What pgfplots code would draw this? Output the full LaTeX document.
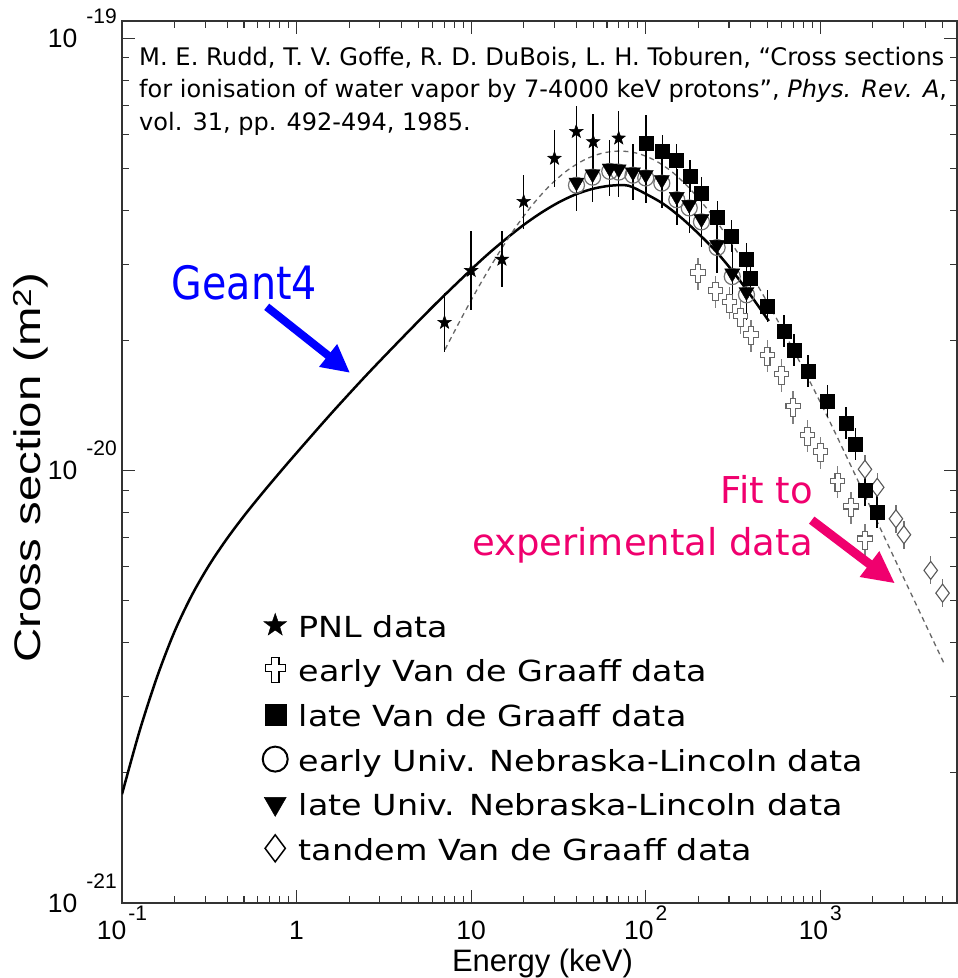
\documentclass[border=0pt]{standalone}
\usepackage{fontspec}
\setmainfont{DejaVu Sans}
\newfontfamily\arial{Liberation Sans}
\newfontfamily\arialY[FakeStretch=1.28]{Liberation Sans}
\newfontfamily\tahoma[FakeStretch=0.86]{DejaVu Sans}
\newfontfamily\legfont[FakeStretch=1.15]{DejaVu Sans}
\usepackage{pgfplots}
\pgfplotsset{compat=1.18}
\usetikzlibrary{arrows.meta}
\definecolor{fitpink}{RGB}{240,0,110}

\pgfdeclareplotmark{fstar}{%
\pgfpathmoveto{\pgfqpointpolar{90}{\pgfplotmarksize}}%
\pgfpathlineto{\pgfqpointpolar{126}{0.4\pgfplotmarksize}}%
\pgfpathlineto{\pgfqpointpolar{162}{\pgfplotmarksize}}%
\pgfpathlineto{\pgfqpointpolar{198}{0.4\pgfplotmarksize}}%
\pgfpathlineto{\pgfqpointpolar{234}{\pgfplotmarksize}}%
\pgfpathlineto{\pgfqpointpolar{270}{0.4\pgfplotmarksize}}%
\pgfpathlineto{\pgfqpointpolar{306}{\pgfplotmarksize}}%
\pgfpathlineto{\pgfqpointpolar{342}{0.4\pgfplotmarksize}}%
\pgfpathlineto{\pgfqpointpolar{18}{\pgfplotmarksize}}%
\pgfpathlineto{\pgfqpointpolar{54}{0.4\pgfplotmarksize}}%
\pgfpathclose
\pgfusepathqfillstroke}

\pgfdeclareplotmark{ocross}{%
\pgfpathmoveto{\pgfqpoint{-0.3\pgfplotmarksize}{\pgfplotmarksize}}%
\pgfpathlineto{\pgfqpoint{0.3\pgfplotmarksize}{\pgfplotmarksize}}%
\pgfpathlineto{\pgfqpoint{0.3\pgfplotmarksize}{0.45\pgfplotmarksize}}%
\pgfpathlineto{\pgfqpoint{0.8\pgfplotmarksize}{0.45\pgfplotmarksize}}%
\pgfpathlineto{\pgfqpoint{0.8\pgfplotmarksize}{-0.15\pgfplotmarksize}}%
\pgfpathlineto{\pgfqpoint{0.3\pgfplotmarksize}{-0.15\pgfplotmarksize}}%
\pgfpathlineto{\pgfqpoint{0.3\pgfplotmarksize}{-\pgfplotmarksize}}%
\pgfpathlineto{\pgfqpoint{-0.3\pgfplotmarksize}{-\pgfplotmarksize}}%
\pgfpathlineto{\pgfqpoint{-0.3\pgfplotmarksize}{-0.15\pgfplotmarksize}}%
\pgfpathlineto{\pgfqpoint{-0.8\pgfplotmarksize}{-0.15\pgfplotmarksize}}%
\pgfpathlineto{\pgfqpoint{-0.8\pgfplotmarksize}{0.45\pgfplotmarksize}}%
\pgfpathlineto{\pgfqpoint{-0.3\pgfplotmarksize}{0.45\pgfplotmarksize}}%
\pgfpathclose
\pgfusepathqfillstroke}

\newcommand\xtl[2]{\mbox{\arial\fontsize{26.5}{26.5}\selectfont #1\ifx\relax#2\relax\else\hspace{2pt}\raisebox{19pt}[0pt][0pt]{\fontsize{21}{21}\selectfont #2}\fi}}
\newcommand\ytl[1]{\mbox{\arial\fontsize{26.5}{26.5}\selectfont 10\hspace{9pt}\raisebox{24pt}[0pt][0pt]{\fontsize{21}{21}\selectfont #1}}}

\begin{document}
\begin{tikzpicture}
\begin{axis}[
  scale only axis, width=835pt, height=882pt,
  xmode=log, ymode=log,
  xmin=0.1, xmax=6065, ymin=1e-21, ymax=1.095e-19,
  xtick={0.1,1,10,100,1000},
  xticklabels={\xtl{10}{-1},\xtl{1}{},\xtl{10}{},\xtl{10}{2},\xtl{10}{3}},
  minor xtick={0.2,0.3,0.4,0.5,0.6,0.7,0.8,0.9,2,3,4,5,6,7,8,9,20,30,40,50,60,70,80,90,200,300,400,500,600,700,800,900,2000,3000,4000,5000,6000},
  ytick={1e-21,1e-20,1e-19},
  yticklabels={\ytl{-21},\ytl{-20},\ytl{-19}},
  minor ytick={2e-21,3e-21,4e-21,5e-21,6e-21,7e-21,8e-21,9e-21,2e-20,3e-20,4e-20,5e-20,6e-20,7e-20,8e-20,9e-20},
  xticklabel style={anchor=north, inner sep=0pt, yshift=-18pt},
  yticklabel style={anchor=east, inner sep=0pt, xshift=-5pt},
  tick align=inside,
  major tick length=13pt, minor tick length=7pt,
  tick style={black!80, line width=1.1pt},
  axis line style={black!80, line width=1.4pt},
  xlabel={\arial\fontsize{31}{31}\selectfont Energy (keV)},
  ylabel={\arialY\fontsize{37}{37}\selectfont Cross section (m\textsuperscript{2})},
  every axis x label/.style={at={(axis description cs:0.5036,-0.0771)}, anchor=base},
  every axis y label/.style={at={(axis description cs:-0.109,0.494)}, anchor=center, rotate=90},
  legend image code/.code={\draw[#1] plot coordinates {(0pt,0pt)};},
  legend cell align=left,
  legend style={at={(axis description cs:0.1683,0.3356)}, anchor=north west,
    draw=none, fill=none, inner sep=0pt, row sep=8.6pt, column sep=11pt,
    font=\legfont\fontsize{29}{29}\selectfont,
    nodes={inner sep=0pt, text height=30pt, text depth=6pt}},
]
% Geant4 model
\addplot[black, line width=2.5pt, smooth, forget plot] table[row sep=\\] {
x y\\
0.1 1.786e-21\\
0.1259 2.495e-21\\
0.1585 3.327e-21\\
0.1995 4.236e-21\\
0.2512 5.152e-21\\
0.3162 6.053e-21\\
0.3981 6.950e-21\\
0.5012 7.870e-21\\
0.6310 8.831e-21\\
0.7943 9.863e-21\\
1.0 1.099e-20\\
1.585 1.358e-20\\
2.512 1.663e-20\\
3.981 2.018e-20\\
6.310 2.438e-20\\
10 2.917e-20\\
12.59 3.177e-20\\
15.85 3.436e-20\\
19.95 3.698e-20\\
25.12 3.945e-20\\
31.62 4.169e-20\\
39.81 4.355e-20\\
50.12 4.487e-20\\
63.10 4.560e-20\\
79.43 4.560e-20\\
100 4.365e-20\\
125.9 4.140e-20\\
158.5 3.855e-20\\
199.5 3.540e-20\\
251.2 3.221e-20\\
316.2 2.884e-20\\
398.1 2.547e-20\\
507 2.218e-20\\
};
% fit to experimental data
\addplot[black!60, line width=1.3pt, dash pattern=on 5pt off 4pt, smooth, forget plot] table[row sep=\\] {
x y\\
7.079 1.905e-20\\
8.913 2.275e-20\\
11.22 2.692e-20\\
14.13 3.148e-20\\
17.78 3.631e-20\\
22.39 4.111e-20\\
28.18 4.560e-20\\
35.48 4.943e-20\\
44.67 5.236e-20\\
56.23 5.420e-20\\
70.79 5.483e-20\\
89.13 5.420e-20\\
112.2 5.224e-20\\
141.3 4.909e-20\\
177.8 4.498e-20\\
223.9 4.036e-20\\
281.8 3.556e-20\\
354.8 3.083e-20\\
446.7 2.642e-20\\
562.3 2.244e-20\\
707.9 1.888e-20\\
891.3 1.578e-20\\
1122 1.309e-20\\
1585 9.772e-21\\
2512 6.577e-21\\
3981 4.436e-21\\
5129 3.573e-21\\
};
% early Van de Graaff
\addplot[only marks, mark=ocross, mark size=9, mark options={fill=white, draw=black!60, line width=1.1pt}, forget plot,
  error bars/.cd, y dir=both, y explicit relative, error mark=none, error bar style={line width=1.4pt, black!50}]
  table[row sep=\\, x=x, y=y, y error plus=ep, y error minus=em] {
x y ep em\\
199.6 2.85e-20 0.089 0.082\\
250.6 2.59e-20 0.089 0.082\\
301.5 2.44e-20 0.089 0.082\\
348.5 2.26e-20 0.089 0.082\\
400 2.05e-20 0.089 0.082\\
497 1.84e-20 0.089 0.082\\
600 1.66e-20 0.089 0.082\\
699 1.40e-20 0.089 0.082\\
845 1.20e-20 0.089 0.082\\
1001 1.10e-20 0.089 0.082\\
1257 9.40e-21 0.089 0.082\\
1498 8.21e-21 0.089 0.082\\
1801 6.91e-21 0.089 0.082\\
};
% tandem Van de Graaff
\addplot[only marks, mark=diamond*, mark size=9, mark options={fill=white, draw=black!65, line width=1.1pt}, forget plot,
  error bars/.cd, y dir=both, y explicit relative, error mark=none, error bar style={line width=1.4pt, black!55}]
  table[row sep=\\, x=x, y=y, y error plus=ep, y error minus=em] {
x y ep em\\
1801 1.007e-20 0.077 0.072\\
2118 9.15e-21 0.077 0.072\\
2710 7.74e-21 0.077 0.072\\
3012 7.11e-21 0.077 0.072\\
4288 5.88e-21 0.077 0.072\\
5012 5.21e-21 0.077 0.072\\
};
% early UNL
\addplot[only marks, mark=o, mark size=8, draw=black!55, line width=1.2pt, forget plot] table[row sep=\\] {
x y\\
40.1 4.57e-20\\
49.6 4.77e-20\\
62.2 4.92e-20\\
70.0 4.90e-20\\
84.5 4.82e-20\\
100 4.75e-20\\
123.6 4.62e-20\\
150.6 4.23e-20\\
177.5 4.05e-20\\
208.5 3.76e-20\\
256.5 3.28e-20\\
313 2.81e-20\\
377.6 2.55e-20\\
};
% late UNL
\addplot[only marks, mark=triangle*, mark size=8.7, mark options={rotate=180, fill=black, draw=black}, forget plot,
  error bars/.cd, y dir=both, y explicit relative, error mark=none, error bar style={line width=1.5pt, black}]
  table[row sep=\\, x=x, y=y, y error plus=ep, y error minus=em] {
x y ep em\\
40.1 4.64e-20 0.161 0.139\\
49.6 4.85e-20 0.161 0.139\\
62.2 5.00e-20 0.161 0.139\\
70.0 4.98e-20 0.161 0.139\\
84.5 4.90e-20 0.161 0.139\\
100 4.83e-20 0.161 0.139\\
123.6 4.70e-20 0.161 0.139\\
150.6 4.30e-20 0.161 0.139\\
177.5 4.12e-20 0.161 0.139\\
208.5 3.82e-20 0.161 0.139\\
256.5 3.33e-20 0.161 0.139\\
313 2.86e-20 0.161 0.139\\
377.6 2.59e-20 0.161 0.139\\
};
% late Van de Graaff
\addplot[only marks, mark=square*, mark size=7, mark options={fill=black, draw=black}, forget plot,
  error bars/.cd, y dir=both, y explicit relative, error mark=none, error bar style={line width=1.5pt, black}]
  table[row sep=\\, x=x, y=y, y error plus=ep, y error minus=em] {
x y ep em\\
100 5.73e-20 0.161 0.139\\
124.7 5.48e-20 0.089 0.082\\
150 5.22e-20 0.089 0.082\\
178.7 4.80e-20 0.089 0.082\\
208.5 4.39e-20 0.089 0.082\\
257.6 3.85e-20 0.089 0.082\\
309.8 3.49e-20 0.089 0.082\\
377.6 3.08e-20 0.089 0.082\\
398 2.79e-20 0.089 0.082\\
497 2.40e-20 0.089 0.082\\
620 2.10e-20 0.089 0.082\\
707 1.90e-20 0.089 0.082\\
849 1.70e-20 0.089 0.082\\
1099 1.45e-20 0.089 0.082\\
1403 1.29e-20 0.089 0.082\\
1590 1.153e-20 0.089 0.082\\
1801 9.02e-21 0.089 0.082\\
2113 8.01e-21 0.089 0.082\\
};
% PNL
\addplot[only marks, mark=fstar, mark size=7, mark options={fill=black, draw=black, line width=0.6pt}, forget plot,
  error bars/.cd, y dir=both, y explicit relative, error mark=none, error bar style={line width=1.5pt, black}]
  table[row sep=\\, x=x, y=y, y error plus=ep, y error minus=em] {
x y ep em\\
7.04 2.20e-20 0.172 0.147\\
10 2.90e-20 0.236 0.191\\
15 3.08e-20 0.161 0.139\\
20 4.19e-20 0.154 0.134\\
30 5.27e-20 0.161 0.139\\
40 6.08e-20 0.148 0.129\\
50 5.76e-20 0.161 0.139\\
70 5.87e-20 0.154 0.134\\
};

% legend
\addlegendimage{only marks, mark=fstar, mark size=12, mark options={fill=black, draw=black}}
\addlegendentry{PNL data}
\addlegendimage{only marks, mark=ocross, mark size=12.5, mark options={fill=white, draw=black, line width=1.3pt}}
\addlegendentry{early Van de Graaff data}
\addlegendimage{only marks, mark=square*, mark size=10.5, mark options={fill=black, draw=black}}
\addlegendentry{late Van de Graaff data}
\addlegendimage{only marks, mark=o, mark size=12.5, mark options={draw=black, line width=2pt}}
\addlegendentry{early Univ. Nebraska-Lincoln data}
\addlegendimage{only marks, mark=triangle*, mark size=12.7, mark options={rotate=180, fill=black, draw=black}}
\addlegendentry{late Univ. Nebraska-Lincoln data}
\addlegendimage{only marks, mark=diamond, mark size=13.5, mark options={draw=black, line width=1.5pt}}
\addlegendentry{tandem Van de Graaff data}

% citation
\node[anchor=base west, inner sep=0pt, font=\fontsize{24.2}{24.2}\selectfont] at (axis description cs:0.0204,0.9501) {M. E. Rudd, T. V. Goffe, R. D. DuBois, L. H. Toburen, “Cross sections};
\node[anchor=base west, inner sep=0pt, font=\fontsize{24}{24}\selectfont] at (axis description cs:0.0204,0.9133) {for ionisation of water vapor by 7-4000 keV protons”, \textit{Phys. Rev. A},};
\node[anchor=base west, inner sep=0pt, font=\fontsize{24}{24}\selectfont] at (axis description cs:0.0204,0.8764) {vol. 31, pp. 492-494, 1985.};

% annotations
\node[anchor=base west, inner sep=0pt, text=blue, font=\tahoma\fontsize{46}{46}\selectfont] at (axis description cs:0.0595,0.6845) {Geant4};
\draw[blue, line width=8pt, -{Triangle[length=28pt,width=27pt]}] (axis description cs:0.1733,0.6761) -- (axis description cs:0.2731,0.6012);
\node[anchor=base east, inner sep=0pt, text=fitpink, font=\fontsize{37}{37}\selectfont] at (axis description cs:0.8275,0.4532) {Fit to};
\node[anchor=base east, inner sep=0pt, text=fitpink, font=\fontsize{37}{37}\selectfont] at (axis description cs:0.8275,0.3946) {experimental data};
\draw[fitpink, line width=9pt, -{Triangle[length=32pt,width=30pt]}] (axis description cs:0.826,0.4342) -- (axis description cs:0.9257,0.3625);
\end{axis}
\pgfresetboundingbox
\path[use as bounding box] (-122pt,-75pt) rectangle (836pt,903pt);
\end{tikzpicture}
\end{document}
